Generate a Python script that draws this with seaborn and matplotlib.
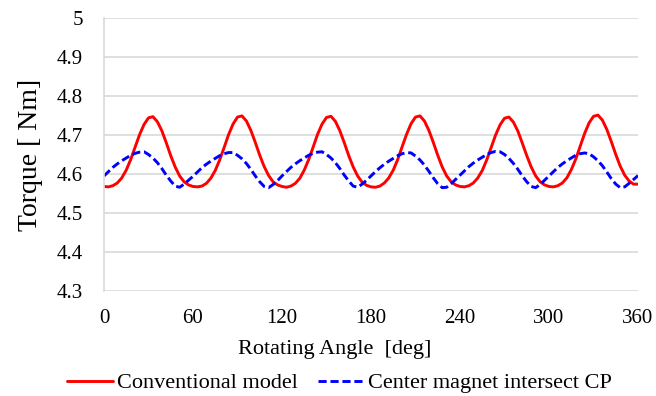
#!/usr/bin/env python3

import pandas as pd
import seaborn as sns
import matplotlib.pyplot as plt


angle = list(range(0, 361, 3))

conventional = [
    4.568, 4.567, 4.570, 4.577, 4.590, 4.610, 4.637, 4.669, 4.701, 4.727,
    4.744, 4.747, 4.734, 4.711, 4.680, 4.647, 4.618, 4.595, 4.580, 4.572,
    4.568, 4.567, 4.569, 4.576, 4.589, 4.609, 4.636, 4.668, 4.701, 4.728,
    4.746, 4.749, 4.736, 4.712, 4.681, 4.648, 4.619, 4.596, 4.580, 4.572,
    4.568, 4.566, 4.569, 4.576, 4.589, 4.610, 4.637, 4.669, 4.702, 4.728,
    4.745, 4.748, 4.735, 4.711, 4.680, 4.647, 4.618, 4.595, 4.579, 4.571,
    4.567, 4.566, 4.569, 4.577, 4.590, 4.610, 4.637, 4.670, 4.702, 4.729,
    4.746, 4.749, 4.736, 4.712, 4.681, 4.648, 4.618, 4.595, 4.580, 4.572,
    4.568, 4.567, 4.570, 4.577, 4.590, 4.609, 4.636, 4.668, 4.700, 4.726,
    4.743, 4.746, 4.733, 4.710, 4.679, 4.647, 4.618, 4.595, 4.580, 4.572,
    4.568, 4.567, 4.570, 4.577, 4.590, 4.611, 4.638, 4.671, 4.704, 4.731,
    4.748, 4.751, 4.738, 4.714, 4.683, 4.650, 4.620, 4.597, 4.582, 4.574,
    4.574,
]

center_cp = [
    4.595, 4.606, 4.617, 4.626, 4.634, 4.641, 4.648, 4.653, 4.656, 4.657,
    4.650, 4.641, 4.629, 4.614, 4.597, 4.582, 4.569, 4.566, 4.574, 4.584,
    4.594, 4.605, 4.616, 4.625, 4.633, 4.640, 4.647, 4.652, 4.655, 4.655,
    4.648, 4.639, 4.627, 4.612, 4.595, 4.580, 4.568, 4.565, 4.573, 4.583,
    4.595, 4.606, 4.617, 4.626, 4.634, 4.641, 4.648, 4.653, 4.656, 4.657,
    4.650, 4.641, 4.629, 4.614, 4.597, 4.582, 4.569, 4.566, 4.574, 4.584,
    4.595, 4.606, 4.616, 4.625, 4.633, 4.640, 4.647, 4.652, 4.655, 4.654,
    4.646, 4.636, 4.623, 4.607, 4.590, 4.575, 4.565, 4.566, 4.575, 4.586,
    4.597, 4.608, 4.619, 4.628, 4.636, 4.643, 4.650, 4.655, 4.658, 4.657,
    4.650, 4.640, 4.627, 4.612, 4.595, 4.580, 4.568, 4.565, 4.573, 4.584,
    4.595, 4.606, 4.617, 4.626, 4.634, 4.641, 4.648, 4.652, 4.654, 4.652,
    4.644, 4.634, 4.621, 4.605, 4.588, 4.574, 4.565, 4.567, 4.576, 4.586,
    4.596,
]

df = pd.DataFrame({"angle": angle, "conv": conventional, "cp": center_cp})

sns.set_style("whitegrid", {"grid.color": "#d9d9d9", "axes.edgecolor": "#d9d9d9",
                            "text.color": "black", "axes.labelcolor": "black",
                            "xtick.color": "black", "ytick.color": "black"})
plt.rcParams["font.family"] = ["Liberation Serif", "DejaVu Serif"]

f = plt.figure(figsize=(6.56, 3.96), dpi=100)
ax = f.add_axes([0.1585, 0.2652, 0.8141, 0.6893])

sns.lineplot(x="angle", y="conv", data=df, ax=ax, color="#ff0000", lw=2.1,
             label="Conventional model")
sns.lineplot(x="angle", y="cp", data=df, ax=ax, color="#0000ff", lw=2.1,
             linestyle=(0, (2.8, 1.3)), label="Center magnet intersect CP")

ax.set_xlim(0, 360)
ax.set_ylim(4.3, 5.0)
ax.set_xticks(range(0, 361, 60))
ax.set_yticks([4.3, 4.4, 4.5, 4.6, 4.7, 4.8, 4.9, 5.0])
ax.set_yticklabels(["4.3", "4.4", "4.5", "4.6", "4.7", "4.8", "4.9", "5"])
ax.xaxis.grid(False)
ax.yaxis.grid(True, lw=1.2)
ax.tick_params(axis="x", labelsize=15, pad=13, length=0)
ax.tick_params(axis="y", labelsize=15, pad=15, length=0)
for s in ["top", "right", "bottom"]:
    ax.spines[s].set_visible(False)
ax.spines["left"].set_linewidth(1.2)

ax.set_xlabel("Rotating Angle  [deg]", fontsize=16)
ax.xaxis.set_label_coords(0.4326, -0.18)
ax.set_ylabel("Torque [ Nm]", fontsize=20)
ax.yaxis.set_label_coords(-0.114, 0.5)

h, l = ax.get_legend_handles_labels()
ax.legend_.remove()
f.legend(h, l, loc="center", bbox_to_anchor=(339 / 656, 1 - 383 / 396), ncol=2,
         frameon=False, fontsize=16, handlelength=2.1, handletextpad=0.15,
         columnspacing=0.9, borderpad=0)

plt.savefig("out.png", dpi=100)
